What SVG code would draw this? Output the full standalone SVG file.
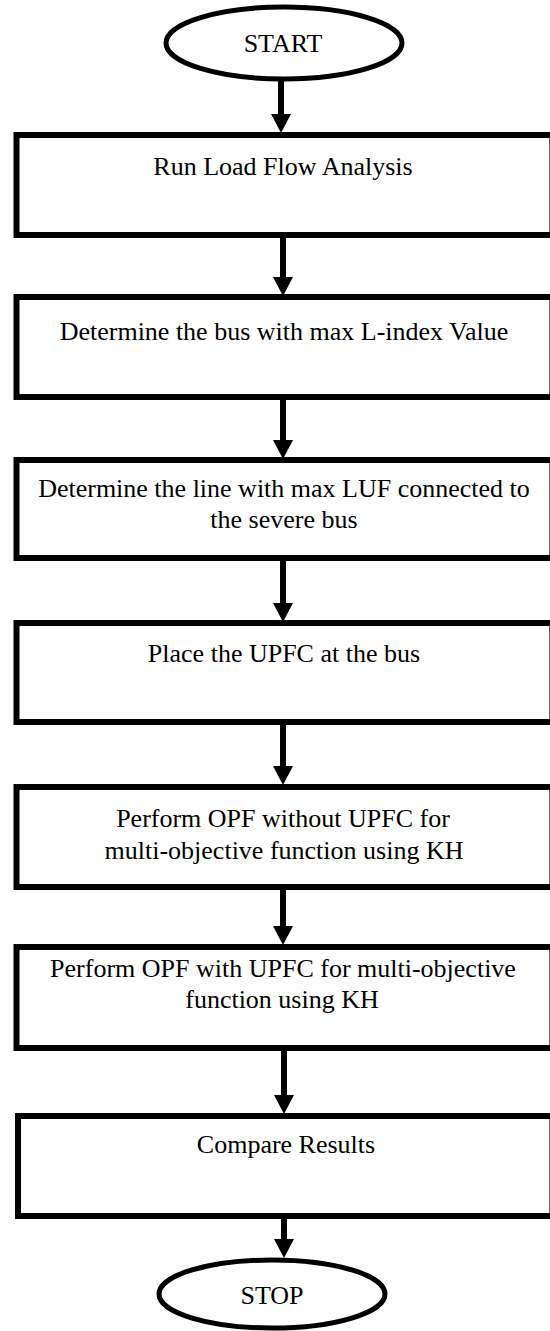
<svg xmlns="http://www.w3.org/2000/svg" width="550" height="1331" viewBox="0 0 550 1331">
<style>
.box{fill:none;stroke:#000;stroke-width:6;stroke-linejoin:miter}
.edge{stroke:#666;stroke-width:1}
.term{fill:#fff;stroke:#000;stroke-width:5}
.lbl{font-family:"Liberation Serif","Times New Roman",serif;font-size:26px;fill:#000;text-anchor:middle}
.shaft{stroke:#000;stroke-width:6}
.head{fill:#000}
</style>
<rect width="550" height="1331" fill="#fff"/>
<g id="connectors">
<line class="shaft" x1="281" y1="80" x2="281" y2="116"/><polygon class="head" points="271,114 291,114 281,133"/>
<line class="shaft" x1="283" y1="236" x2="283" y2="279"/><polygon class="head" points="273,277 293,277 283,296"/>
<line class="shaft" x1="283" y1="398" x2="283" y2="442"/><polygon class="head" points="273,440 293,440 283,459"/>
<line class="shaft" x1="283" y1="559" x2="283" y2="605"/><polygon class="head" points="273,603 293,603 283,622"/>
<line class="shaft" x1="283" y1="723" x2="283" y2="768"/><polygon class="head" points="273,766 293,766 283,785"/>
<line class="shaft" x1="283" y1="888" x2="283" y2="928"/><polygon class="head" points="273,926 293,926 283,945"/>
<line class="shaft" x1="284" y1="1049" x2="284" y2="1097"/><polygon class="head" points="274,1095 294,1095 284,1114"/>
<line class="shaft" x1="284" y1="1217" x2="284" y2="1241"/><polygon class="head" points="274,1239 294,1239 284,1258"/>
</g>
<g id="start">
<ellipse class="term" cx="284" cy="43" rx="118" ry="36"/>
<text class="lbl" x="283" y="52">START</text>
</g>
<g id="n1">
<path class="box" d="M560 135 H16.5 V235 H560"/><line class="edge" x1="549.5" y1="138" x2="549.5" y2="232"/>
<text class="lbl" x="283" y="175">Run Load Flow Analysis</text>
</g>
<g id="n2">
<path class="box" d="M560 297 H16.5 V397 H560"/><line class="edge" x1="549.5" y1="300" x2="549.5" y2="394"/>
<text class="lbl" x="284" y="340">Determine the bus with max L-index Value</text>
</g>
<g id="n3">
<path class="box" d="M560 460 H16.5 V558 H560"/><line class="edge" x1="549.5" y1="463" x2="549.5" y2="555"/>
<text class="lbl" x="284" y="497">Determine the line with max LUF connected to</text>
<text class="lbl" x="284" y="528">the severe bus</text>
</g>
<g id="n4">
<path class="box" d="M560 623 H16.5 V722 H560"/><line class="edge" x1="549.5" y1="626" x2="549.5" y2="719"/>
<text class="lbl" x="284" y="662">Place the UPFC at the bus</text>
</g>
<g id="n5">
<path class="box" d="M560 787 H16.5 V887 H560"/><line class="edge" x1="549.5" y1="790" x2="549.5" y2="884"/>
<text class="lbl" x="283" y="827">Perform OPF without UPFC for</text>
<text class="lbl" x="284" y="859">multi-objective function using KH</text>
</g>
<g id="n6">
<path class="box" d="M560 947 H16.5 V1048 H560"/><line class="edge" x1="549.5" y1="950" x2="549.5" y2="1045"/>
<text class="lbl" x="283" y="977">Perform OPF with UPFC for multi-objective</text>
<text class="lbl" x="282" y="1008">function using KH</text>
</g>
<g id="n7">
<path class="box" d="M560 1116 H18 V1216 H560"/><line class="edge" x1="549.5" y1="1119" x2="549.5" y2="1213"/>
<text class="lbl" x="286" y="1153">Compare Results</text>
</g>
<g id="stop">
<ellipse class="term" cx="272" cy="1294" rx="113" ry="34"/>
<text class="lbl" x="272" y="1304">STOP</text>
</g>
</svg>
